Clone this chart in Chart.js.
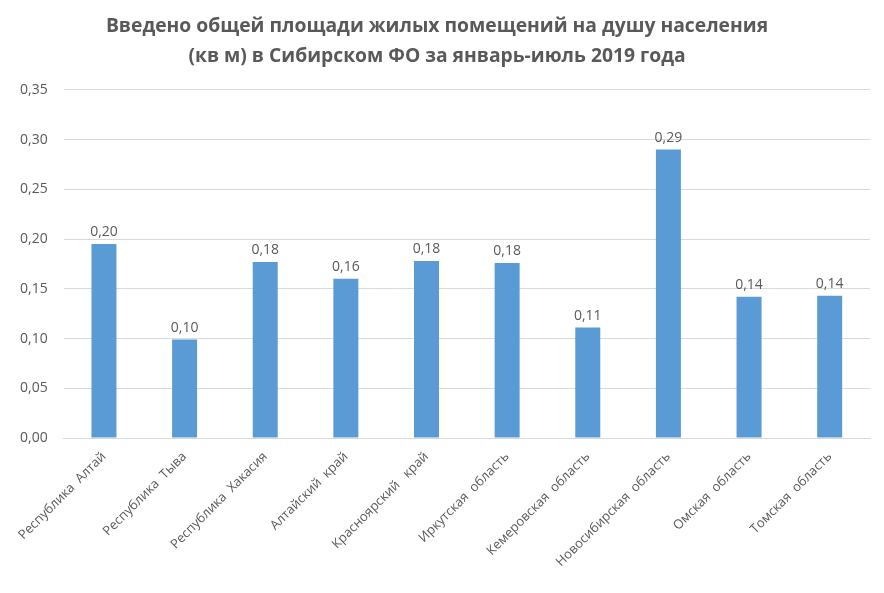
<!DOCTYPE html>
<html>
<head>
<meta charset="utf-8">
<script src="https://cdn.jsdelivr.net/npm/chart.js@4/dist/chart.umd.min.js"></script>
<style>
    html, body { margin: 0; padding: 0; background: #ffffff; }
    #wrap { width: 884px; height: 593px; }
</style>
</head>
<body>
<div id="wrap"><canvas id="myChart" width="884" height="593"></canvas></div>
<script>
const regions = [
    "Республика  Алтай",
    "Республика  Тыва",
    "Республика  Хакасия",
    "Алтайский  край",
    "Красноярский   край",
    "Иркутская  область",
    "Кемеровская  область",
    "Новосибирская  область",
    "Омская  область",
    "Томская  область"
];
const areaPerPerson = [0.195, 0.099, 0.177, 0.160, 0.178, 0.176, 0.111, 0.290, 0.142, 0.143];
const titleLines = [
    "Введено общей площади жилых помещений на душу населения",
    "(кв м) в Сибирском ФО за январь-июль 2019 года"
];

const fontFamily = "'Open Sans', sans-serif";
const textColor = "#595959";

const fmt = (v) => v.toFixed(2).replace(".", ",");

// value labels above bars
const barLabels = {
    id: "barLabels",
    afterDatasetsDraw(chart) {
        const ctx = chart.ctx;
        const meta = chart.getDatasetMeta(0);
        ctx.save();
        ctx.font = "14px " + fontFamily;
        ctx.fillStyle = textColor;
        ctx.textAlign = "center";
        ctx.textBaseline = "bottom";
        meta.data.forEach((bar, i) => {
            ctx.fillText(fmt(areaPerPerson[i]), bar.x, bar.y - 5);
        });
        ctx.restore();
    }
};

const ctx = document.getElementById("myChart").getContext("2d");

new Chart(ctx, {
    type: "bar",
    data: {
        labels: regions,
        datasets: [{
            data: areaPerPerson,
            backgroundColor: "#5B9BD5",
            borderWidth: 0,
            barPercentage: 0.62,
            categoryPercentage: 0.5
        }]
    },
    options: {
        responsive: false,
        animation: false,
        layout: { padding: { left: 4, right: 14, top: 4, bottom: 20 } },
        plugins: {
            legend: { display: false },
            tooltip: { enabled: false },
            title: {
                display: true,
                text: titleLines,
                color: textColor,
                font: { family: fontFamily, size: 19.3, weight: "bold", lineHeight: 1.55 },
                padding: { top: 8, bottom: 18 }
            }
        },
        scales: {
            x: {
                grid: { display: false },
                border: { color: "#D9D9D9", width: 1 },
                ticks: {
                    color: textColor,
                    font: { family: fontFamily, size: 13 },
                    minRotation: 45,
                    maxRotation: 45,
                    autoSkip: false
                }
            },
            y: {
                min: 0,
                max: 0.35,
                grid: { color: "#D9D9D9", drawTicks: false },
                border: { display: false },
                ticks: {
                    stepSize: 0.05,
                    color: textColor,
                    padding: 16,
                    font: { family: fontFamily, size: 14 },
                    callback: (v) => fmt(v)
                }
            }
        }
    },
    plugins: [barLabels]
});
</script>
</body>
</html>
